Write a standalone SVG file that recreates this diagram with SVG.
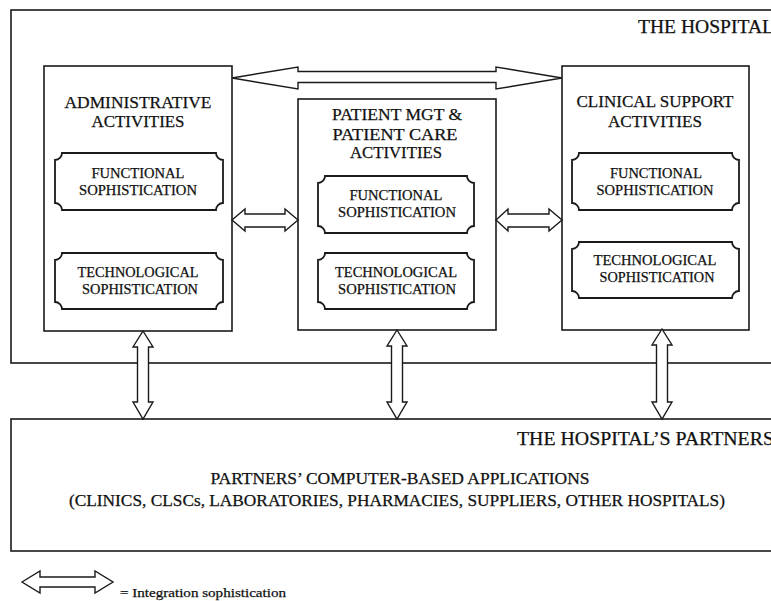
<svg xmlns="http://www.w3.org/2000/svg" width="771" height="601" viewBox="0 0 771 601">
<style>
.box{fill:none;stroke:#1a1a1a;stroke-width:1.6}
.inner{fill:none;stroke:#1a1a1a;stroke-width:1.8}
.arr{fill:#fff;stroke:#1a1a1a;stroke-width:1.4;stroke-linejoin:miter}
.t{font-family:"Liberation Serif","Times New Roman",serif;fill:#111;text-anchor:middle;stroke:#111;stroke-width:0.25}
.title{font-size:17px}
.sub{font-size:14px}
.big{font-size:16px}
.lab{font-size:18px;text-anchor:start}
</style>
<rect width="771" height="601" fill="#fff"/>
<g id="hospital">
<rect class="box" x="11" y="10" width="780" height="353"/>
<text class="t lab" x="638" y="33" textLength="136" lengthAdjust="spacingAndGlyphs">THE HOSPITAL</text>
</g>
<g id="partners">
<rect class="box" x="11" y="419" width="780" height="132"/>
<text class="t lab" x="517" y="445" textLength="257" lengthAdjust="spacingAndGlyphs">THE HOSPITAL’S PARTNERS</text>
<text class="t big" x="400" y="484" textLength="379" lengthAdjust="spacingAndGlyphs">PARTNERS’ COMPUTER-BASED APPLICATIONS</text>
<text class="t big" x="397" y="506" textLength="656" lengthAdjust="spacingAndGlyphs">(CLINICS, CLSCs, LABORATORIES, PHARMACIES, SUPPLIERS, OTHER HOSPITALS)</text>
</g>
<g id="admin">
<rect class="box" x="44" y="66" width="188" height="265"/>
<text class="t title" x="138" y="108" textLength="147" lengthAdjust="spacingAndGlyphs">ADMINISTRATIVE</text>
<text class="t title" x="138" y="127" textLength="93" lengthAdjust="spacingAndGlyphs">ACTIVITIES</text>
<path class="inner" d="M62,153 H216 A7,7 0 0 0 223,160 V203 A7,7 0 0 0 216,210 H62 A7,7 0 0 0 55,203 V160 A7,7 0 0 0 62,153 Z"/>
<text class="t sub" x="138" y="178" textLength="93" lengthAdjust="spacingAndGlyphs">FUNCTIONAL</text>
<text class="t sub" x="138" y="195" textLength="118" lengthAdjust="spacingAndGlyphs">SOPHISTICATION</text>
<path class="inner" d="M62,253 H216 A7,7 0 0 0 223,260 V302 A7,7 0 0 0 216,309 H62 A7,7 0 0 0 55,302 V260 A7,7 0 0 0 62,253 Z"/>
<text class="t sub" x="138" y="277" textLength="121" lengthAdjust="spacingAndGlyphs">TECHNOLOGICAL</text>
<text class="t sub" x="140" y="294" textLength="116" lengthAdjust="spacingAndGlyphs">SOPHISTICATION</text>
</g>
<g id="patient">
<rect class="box" x="298" y="99" width="198" height="231"/>
<text class="t title" x="397" y="120" textLength="130" lengthAdjust="spacingAndGlyphs">PATIENT MGT &amp;</text>
<text class="t title" x="395" y="140" textLength="125" lengthAdjust="spacingAndGlyphs">PATIENT CARE</text>
<text class="t title" x="396" y="158" textLength="92" lengthAdjust="spacingAndGlyphs">ACTIVITIES</text>
<path class="inner" d="M325,176 H467 A7,7 0 0 0 474,183 V226 A7,7 0 0 0 467,233 H325 A7,7 0 0 0 318,226 V183 A7,7 0 0 0 325,176 Z"/>
<text class="t sub" x="396" y="200" textLength="93" lengthAdjust="spacingAndGlyphs">FUNCTIONAL</text>
<text class="t sub" x="397" y="217" textLength="118" lengthAdjust="spacingAndGlyphs">SOPHISTICATION</text>
<path class="inner" d="M325,253 H467 A7,7 0 0 0 474,260 V302 A7,7 0 0 0 467,309 H325 A7,7 0 0 0 318,302 V260 A7,7 0 0 0 325,253 Z"/>
<text class="t sub" x="396" y="277" textLength="122" lengthAdjust="spacingAndGlyphs">TECHNOLOGICAL</text>
<text class="t sub" x="397" y="294" textLength="118" lengthAdjust="spacingAndGlyphs">SOPHISTICATION</text>
</g>
<g id="clinical">
<rect class="box" x="562" y="66" width="187" height="264"/>
<text class="t title" x="655" y="107" textLength="157" lengthAdjust="spacingAndGlyphs">CLINICAL SUPPORT</text>
<text class="t title" x="655" y="127" textLength="94" lengthAdjust="spacingAndGlyphs">ACTIVITIES</text>
<path class="inner" d="M579,153 H732 A7,7 0 0 0 739,160 V203 A7,7 0 0 0 732,210 H579 A7,7 0 0 0 572,203 V160 A7,7 0 0 0 579,153 Z"/>
<text class="t sub" x="656" y="178" textLength="92" lengthAdjust="spacingAndGlyphs">FUNCTIONAL</text>
<text class="t sub" x="655" y="195" textLength="117" lengthAdjust="spacingAndGlyphs">SOPHISTICATION</text>
<path class="inner" d="M579,242 H732 A7,7 0 0 0 739,249 V291 A7,7 0 0 0 732,298 H579 A7,7 0 0 0 572,291 V249 A7,7 0 0 0 579,242 Z"/>
<text class="t sub" x="655" y="265" textLength="123" lengthAdjust="spacingAndGlyphs">TECHNOLOGICAL</text>
<text class="t sub" x="657" y="282" textLength="115" lengthAdjust="spacingAndGlyphs">SOPHISTICATION</text>
</g>
<g id="connectors">
<polygon class="arr" points="232,78 298,67 298,71.5 496,71.5 496,67 562,78 496,89 496,82.5 298,82.5 298,89"/>
<polygon class="arr" points="232,220 245,209 245,214 285,214 285,209 298,220 285,231 285,227 245,227 245,231"/>
<polygon class="arr" points="496,220 508,209 508,214 549,214 549,209 562,220 549,231 549,227 508,227 508,231"/>
<polygon class="arr" points="143,331 153,347 148.5,347 148.5,402 153,402 143,419 133,402 137.5,402 137.5,347 133,347"/>
<polygon class="arr" points="397,330 407,346 402.5,346 402.5,402 407,402 397,419 387,402 391.5,402 391.5,346 387,346"/>
<polygon class="arr" points="662,329 672,345 667.5,345 667.5,402 672,402 662,419 652,402 656.5,402 656.5,345 652,345"/>
</g>
<g id="legend">
<polygon class="arr" points="22,582 40,571 40,577 95,577 95,571 113,582 95,593 95,587 40,587 40,593"/>
<text class="t" style="font-size:13px;text-anchor:start" x="120" y="597" textLength="166" lengthAdjust="spacingAndGlyphs">= Integration sophistication</text>
</g>
</svg>
